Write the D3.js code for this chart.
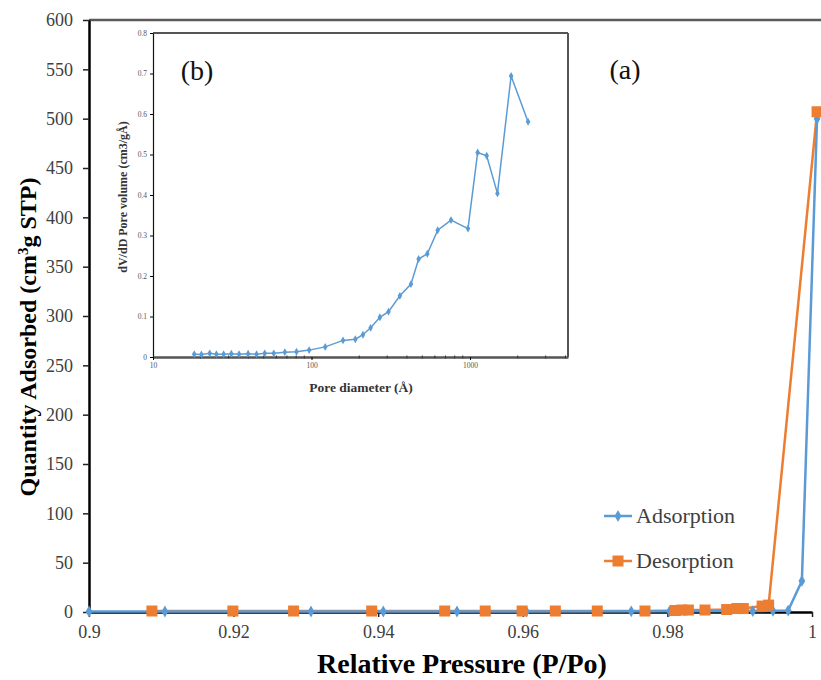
<!DOCTYPE html>
<html lang="en">
<head>
<meta charset="UTF-8">
<title>Isotherm with pore size inset</title>
<script src="https://d3js.org/d3.v7.min.js"></script>
<style>
  body { margin: 0; background: #fff; }
  svg, svg text { font-family: 'Liberation Serif', 'Times New Roman', Times, serif !important; }
</style>
</head>
<body>
<svg width="821" height="680"></svg>
<script>
// Adsorption branch (P/Po, quantity)
const adsP = [0.9, 0.9105, 0.9307, 0.9407, 0.9509, 0.9605, 0.975, 0.9803, 0.9918, 0.9946, 0.9967, 0.9986, 1.0007];
const adsQ = [0.5, 0.5, 0.5, 0.5, 0.5, 0.6, 0.7, 0.8, 1.0, 1.2, 1.5, 31.5, 500];
// Desorption branch
const desP = [0.9087, 0.9199, 0.9283, 0.9391, 0.9492, 0.9548, 0.9599, 0.9645, 0.9703, 0.9769,
              0.9811, 0.982, 0.9829, 0.9852, 0.9882, 0.9896, 0.9905, 0.9931, 0.994, 1.0007];
const desQ = [1, 1, 1, 1, 1, 1, 1, 1, 1, 1,
              1.5, 2, 2, 2, 2.5, 3.5, 3.5, 6, 7, 507];

// Inset: pore size distribution
const poreD = [18.2, 20.2, 22.8, 25.1, 27.9, 31.2, 34.9, 39.8, 45.0, 50.7, 57.8, 67.9, 80.4, 96.6,
               122, 158, 189, 211, 236, 270, 306, 361, 424, 474, 538, 625, 759, 971, 1117, 1274, 1489, 1816, 2323];
const poreV = [0.007, 0.006, 0.009, 0.007, 0.007, 0.008, 0.007, 0.008, 0.007, 0.009, 0.009, 0.012, 0.013, 0.017,
               0.025, 0.041, 0.044, 0.055, 0.072, 0.098, 0.112, 0.151, 0.180, 0.242, 0.255, 0.313, 0.338, 0.317,
               0.505, 0.497, 0.404, 0.694, 0.581];

const xTicks = [0.9, 0.92, 0.94, 0.96, 0.98, 1];
const yTicks = d3.range(0, 601, 50);
const insetYTicks = [0, 0.1, 0.2, 0.3, 0.4, 0.5, 0.6, 0.7, 0.8];
const insetXTicks = [10, 100, 1000];

const blue = "#5b9bd5", orange = "#ed7d31";
const svg = d3.select("svg");

// main scales
const x = d3.scaleLinear().domain([0.9, 1]).range([89, 812]);
const y = d3.scaleLinear().domain([0, 600]).range([612, 20]);

// top frame line
svg.append("line")
    .attr("x1", 89).attr("x2", 821)
    .attr("y1", y(600)).attr("y2", y(600))
    .attr("stroke", "#5a5a5a").attr("stroke-width", 2.5);

// axes
const yAxis = svg.append("g")
    .attr("transform", "translate(89,0)")
    .call(d3.axisLeft(y).tickValues(yTicks).tickSize(6).tickSizeOuter(0));
const xAxis = svg.append("g")
    .attr("transform", `translate(0,${y(0)})`)
    .call(d3.axisBottom(x).tickValues(xTicks).tickSize(5).tickSizeOuter(0)
        .tickFormat(d => String(+d.toFixed(2))));
[xAxis, yAxis].forEach(a => {
    a.attr("font-family", null);
    a.select(".domain").attr("stroke", "#000").attr("stroke-width", 2.5);
    a.selectAll(".tick line").attr("stroke", "#222").attr("stroke-width", 1.5);
    a.selectAll(".tick text").attr("font-size", 18).attr("fill", "#404040");
});
yAxis.selectAll(".tick text").attr("x", -16);
xAxis.selectAll(".tick text").attr("y", 13);

// series
const line = d3.line().x(d => x(d[0])).y(d => y(d[1]));
const ads = adsP.map((p, i) => [p, adsQ[i]]);
const des = desP.map((p, i) => [p, desQ[i]]);

svg.append("path").datum(des).attr("d", line)
    .attr("fill", "none").attr("stroke", orange).attr("stroke-width", 2.5);
svg.append("path").datum(ads).attr("d", line)
    .attr("fill", "none").attr("stroke", blue).attr("stroke-width", 2.5);

svg.selectAll(".ads").data(ads).enter().append("path")
    .attr("class", "ads")
    .attr("d", d3.symbol(d3.symbolDiamond, 40)())
    .attr("transform", d => `translate(${x(d[0])},${y(d[1])})`)
    .attr("fill", blue);
svg.selectAll(".des").data(des).enter().append("rect")
    .attr("class", "des")
    .attr("x", d => x(d[0]) - 5.5).attr("y", d => y(d[1]) - 5.5)
    .attr("width", 11).attr("height", 11)
    .attr("fill", orange);

// legend
const legend = [["Adsorption", blue, 516], ["Desorption", orange, 561]];
legend.forEach(([name, col, ly]) => {
    svg.append("line").attr("x1", 604).attr("x2", 632).attr("y1", ly).attr("y2", ly)
        .attr("stroke", col).attr("stroke-width", 2.5);
    if (col === blue) {
        svg.append("path").attr("d", d3.symbol(d3.symbolDiamond, 40)())
            .attr("transform", `translate(618,${ly})`).attr("fill", col);
    } else {
        svg.append("rect").attr("x", 612.5).attr("y", ly - 5.5).attr("width", 11).attr("height", 11)
            .attr("fill", col);
    }
    svg.append("text").attr("x", 636).attr("y", ly + 7)
        .attr("font-size", 22).attr("fill", "#404040").text(name);
});

// axis titles
svg.append("text")
    .attr("transform", "translate(36,337) rotate(-90)")
    .attr("text-anchor", "middle")
    .attr("font-size", 24).attr("font-weight", "bold")
    .html('Quantity Adsorbed (cm<tspan baseline-shift="super" font-size="15">3</tspan>g STP)');
svg.append("text")
    .attr("x", 462).attr("y", 673)
    .attr("text-anchor", "middle")
    .attr("font-size", 28).attr("font-weight", "bold")
    .text("Relative Pressure (P/Po)");

svg.append("text").attr("x", 625).attr("y", 79).attr("text-anchor", "middle")
    .attr("font-size", 28).attr("fill", "#111").text("(a)");

// ---------- inset ----------
const ix = d3.scaleLog().domain([10, 4150]).range([153, 568]);
const iy = d3.scaleLinear().domain([0, 0.8]).range([357, 33]);

svg.append("line").attr("x1", 153).attr("x2", 568).attr("y1", iy(0.8)).attr("y2", iy(0.8))
    .attr("stroke", "#555").attr("stroke-width", 2);
svg.append("line").attr("x1", 568).attr("x2", 568).attr("y1", iy(0.8)).attr("y2", iy(0))
    .attr("stroke", "#555").attr("stroke-width", 2);

const iyAxis = svg.append("g").attr("transform", "translate(153,0)")
    .call(d3.axisLeft(iy).tickValues(insetYTicks).tickSize(3).tickSizeOuter(0)
        .tickFormat(d => String(+d.toFixed(1))));
const minor = [];
[10, 100, 1000].forEach(b => { for (let k = 2; k <= 9; k++) if (b * k < 4150) minor.push(b * k); });
const ixAxis = svg.append("g").attr("transform", `translate(0,${iy(0)})`)
    .call(d3.axisBottom(ix).tickValues(insetXTicks).tickSize(3).tickSizeOuter(0)
        .tickFormat(d3.format("d")));
ixAxis.selectAll(".minor").data(minor).enter().append("line")
    .attr("x1", d => ix(d)).attr("x2", d => ix(d)).attr("y1", -1.5).attr("y2", 1.5)
    .attr("stroke", "#333");
iyAxis.select(".domain").attr("stroke", "#111").attr("stroke-width", 1.2);
ixAxis.select(".domain").attr("stroke", "#555").attr("stroke-width", 2.5);
[iyAxis, ixAxis].forEach(a => {
    a.attr("font-family", null);
    a.selectAll(".tick text").attr("font-size", 7.5).attr("fill", "#555");
});

const iline = d3.line().x(d => ix(d[0])).y(d => iy(d[1]));
const pore = poreD.map((p, i) => [p, poreV[i]]);
svg.append("path").datum(pore).attr("d", iline)
    .attr("fill", "none").attr("stroke", blue).attr("stroke-width", 1.5);
svg.selectAll(".pore").data(pore).enter().append("path")
    .attr("class", "pore")
    .attr("d", d3.symbol(d3.symbolDiamond, 18)())
    .attr("transform", d => `translate(${ix(d[0])},${iy(d[1])})`)
    .attr("fill", blue);

svg.append("text")
    .attr("transform", "translate(127,197) rotate(-90)")
    .attr("text-anchor", "middle")
    .attr("font-size", 12).attr("font-weight", "bold").attr("fill", "#333")
    .text("dV/dD Pore volume (cm3/gÅ)");
svg.append("text")
    .attr("x", 361).attr("y", 392)
    .attr("text-anchor", "middle")
    .attr("font-size", 13.5).attr("font-weight", "bold").attr("fill", "#333")
    .text("Pore diameter (Å)");
svg.append("text").attr("x", 197).attr("y", 80).attr("text-anchor", "middle")
    .attr("font-size", 28).attr("fill", "#111").text("(b)");
</script>
</body>
</html>
